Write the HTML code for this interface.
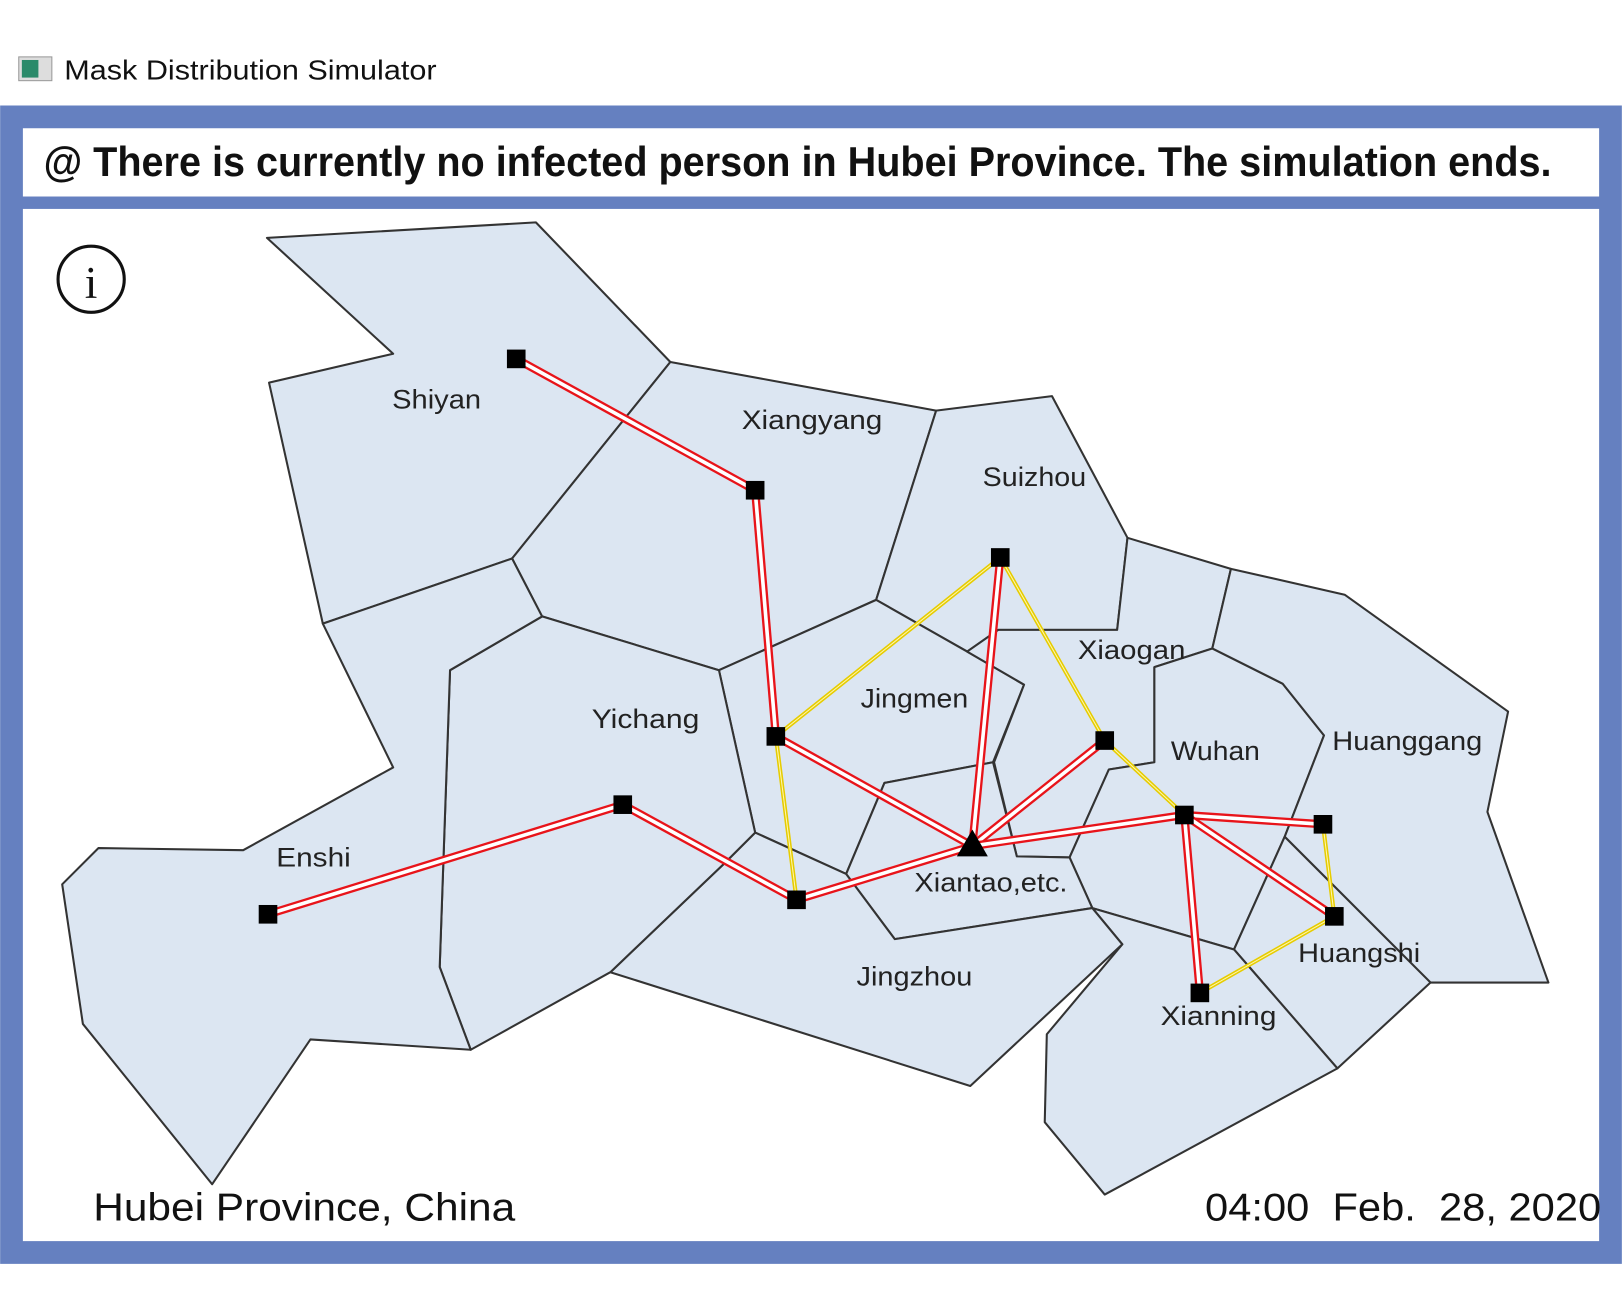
<!DOCTYPE html>
<html><head><meta charset="utf-8"><style>
html,body{margin:0;padding:0;background:#fff;width:1622px;height:1298px;overflow:hidden}
svg{display:block}
text{font-family:"Liberation Sans",sans-serif}
</style></head><body>
<svg id="s" width="1622" height="1298" viewBox="0 0 1568 1255">
<g>
<rect x="18" y="55" width="32" height="23" fill="#ddd" stroke="#999"/>
<rect x="21" y="58" width="16" height="17" fill="#2a8a6a"/>
<text x="62" y="77" font-size="27" fill="#111" textLength="360" lengthAdjust="spacingAndGlyphs">Mask Distribution Simulator</text>
</g>
<rect x="0" y="102" width="1568" height="1120" fill="#6580c0"/>
<rect x="22" y="124" width="1524" height="66" fill="#fff"/>
<text x="42" y="170" font-size="40" font-weight="bold" fill="#111" textLength="1458" lengthAdjust="spacingAndGlyphs">@ There is currently no infected person in Hubei Province. The simulation ends.</text>
<rect x="22" y="202" width="1524" height="998" fill="#fff"/>
<g>
<circle cx="88" cy="270" r="32" fill="none" stroke="#111" stroke-width="3"/>
<text x="88" y="288" font-size="44" text-anchor="middle" style="font-family:'Liberation Serif',serif" fill="#111">i</text>
</g>
<g id="regions"></g>
<g id="edges"></g>
<g id="nodes"></g>
<g id="labels"></g>
<text x="90" y="1180" font-size="38" fill="#111" textLength="408" lengthAdjust="spacingAndGlyphs">Hubei Province, China</text>
<text x="1165" y="1180" font-size="38" fill="#111" textLength="383" lengthAdjust="spacingAndGlyphs" style="white-space:pre" xml:space="preserve">04:00  Feb.  28, 2020</text>
</svg>
<script>
const regionNames=["shiyan","xiangyang","suizhou","jingmen","xiaogan","wuhan","huanggang","huangshi","xianning","xiantao","jingzhou","yichang","enshi"];
const regionPolys=[
[[258,230],[518,215],[648,350],[495,540],[312,603],[260,370],[380,342]],
[[648,350],[905,397],[847,580],[695,648],[524,596],[495,540]],
[[905,397],[1017,383],[1090,520],[1080,609],[965,609],[935,630],[847,580]],
[[695,648],[847,580],[935,630],[990,662],[960,737],[855,757],[818,845],[730,805]],
[[1090,520],[1190,550],[1172,627],[1116,645],[1116,737],[1072,744],[1034,829],[983,828],[961,737],[990,662],[935,630],[965,609],[1080,609]],
[[1172,627],[1240,661],[1280,711],[1242,809],[1193,918],[1056,878],[1034,829],[1072,744],[1116,737],[1116,645]],
[[1190,550],[1300,575],[1458,688],[1438,785],[1497,950],[1383,950],[1242,809],[1280,711],[1240,661],[1172,627]],
[[1242,809],[1383,950],[1293,1033],[1193,918]],
[[1056,878],[1193,918],[1293,1033],[1068,1155],[1010,1085],[1012,1000],[1085,913]],
[[818,845],[855,757],[960,737],[983,828],[1034,829],[1056,878],[865,908]],
[[730,805],[818,845],[865,908],[1056,878],[1085,913],[938,1050],[590,940],[700,835]],
[[524,596],[695,648],[730,805],[700,835],[590,940],[455,1015],[425,935],[435,648]],
[[312,603],[495,540],[524,596],[435,648],[425,935],[455,1015],[300,1005],[205,1145],[80,990],[60,855],[95,820],[235,822],[380,742]]
];
const cityNames=["Shiyan","Xiangyang","Jingmen","Suizhou","Xiaogan","Wuhan","Huanggang","Huangshi","Xianning","Xiantao,etc.","Jingzhou","Yichang","Enshi"];
const cityX=[499,730,750,967,1068,1145,1279,1290,1160,940,770,602,259];
const cityY=[347,474,712,539,716,788,797,886,960,818,870,778,884];
const labelX=[379,717,832,950,1042,1132,1288,1255,1122,884,828,572,267];
const labelY=[395,415,684,470,637,735,725,930,991,862,953,704,838];
const labelW=[86,136,104,100,104,86,145,118,112,148,112,104,72];
const redEdges=[[0,1],[1,2],[2,9],[11,12],[11,10],[10,9],[3,9],[4,9],[5,9],[5,6],[5,7],[5,8]];
const yellowEdges=[[2,3],[2,10],[3,4],[4,5],[6,7],[7,8]];
const NS="http://www.w3.org/2000/svg";
function mk(t,a){const e=document.createElementNS(NS,t);for(const k in a)e.setAttribute(k,a[k]);return e;}
const R=document.getElementById('regions'),E=document.getElementById('edges'),N=document.getElementById('nodes'),L=document.getElementById('labels');
regionPolys.forEach((p,i)=>{const e=mk('polygon',{points:p.map(q=>q.join(',')).join(' '),fill:'#dce6f2',stroke:'#333','stroke-width':2,'stroke-linejoin':'round'});


R.appendChild(e);});
redEdges.forEach(([a,b])=>{const g=mk('g',{});


g.appendChild(mk('line',{x1:cityX[a],y1:cityY[a],x2:cityX[b],y2:cityY[b],stroke:'#e8141a','stroke-width':8}));
g.appendChild(mk('line',{x1:cityX[a],y1:cityY[a],x2:cityX[b],y2:cityY[b],stroke:'#fff','stroke-width':3.5}));
E.appendChild(g);});
yellowEdges.forEach(([a,b])=>{const g=mk('g',{});


g.appendChild(mk('line',{x1:cityX[a],y1:cityY[a],x2:cityX[b],y2:cityY[b],stroke:'#e6cc00','stroke-width':4}));
g.appendChild(mk('line',{x1:cityX[a],y1:cityY[a],x2:cityX[b],y2:cityY[b],stroke:'#fff6b0','stroke-width':1}));
E.appendChild(g);});
cityX.forEach((x,i)=>{const y=cityY[i];let e;
if(i===9)e=mk('polygon',{points:`${x},${y-16} ${x-15},${y+10} ${x+15},${y+10}`,fill:'#000'});
else e=mk('rect',{x:x-9,y:y-9,width:18,height:18,fill:'#000'});


N.appendChild(e);
const t=mk('text',{x:labelX[i],y:labelY[i],'font-size':26,fill:'#222',textLength:labelW[i],lengthAdjust:'spacingAndGlyphs'});t.textContent=cityNames[i];


L.appendChild(t);});
</script>
</body></html>
